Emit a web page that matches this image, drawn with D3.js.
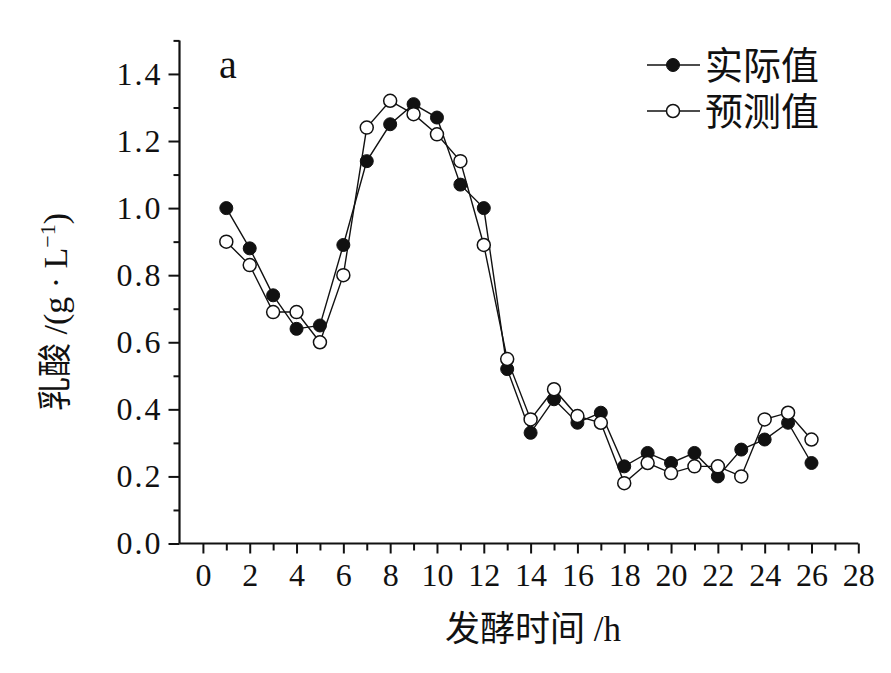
<!DOCTYPE html>
<html><head><meta charset="utf-8">
<script src="https://cdn.jsdelivr.net/npm/d3@7"></script>
<style>
html,body{margin:0;padding:0;background:#fff;}
svg{display:block;}
text{fill:#111;font-family:'Liberation Serif','Noto Sans CJK SC',serif;}
</style></head>
<body>
<script>
const hours = [1,2,3,4,5,6,7,8,9,10,11,12,13,14,15,16,17,18,19,20,21,22,23,24,25,26];
const actual = [1.00,0.88,0.74,0.64,0.65,0.89,1.14,1.25,1.31,1.27,1.07,1.00,0.52,0.33,0.43,0.36,0.39,0.23,0.27,0.24,0.27,0.20,0.28,0.31,0.36,0.24];
const predicted = [0.90,0.83,0.69,0.69,0.60,0.80,1.24,1.32,1.28,1.22,1.14,0.89,0.55,0.37,0.46,0.38,0.36,0.18,0.24,0.21,0.23,0.23,0.20,0.37,0.39,0.31];
const xTicks = [0,2,4,6,8,10,12,14,16,18,20,22,24,26,28];
const yTicks = [0,0.2,0.4,0.6,0.8,1.0,1.2,1.4];
const seriesNames = ["实际值","预测值"];
const xTitle = "发酵时间 /h";
const panelLabel = "a";

const W = 891, H = 673;
const svg = d3.select("body").append("svg").attr("width", W).attr("height", H);
const FONT = "'Liberation Serif','Noto Sans CJK SC',serif";

const x = d3.scaleLinear().domain([-1, 28]).range([179.5, 858.3]);
const y = d3.scaleLinear().domain([0, 1.5]).range([543.5, 40.4]);

const xMinor = d3.range(1, 28, 2);
const yMinor = d3.range(1, 16, 2).map(d => d / 10);

const gx = svg.append("g").attr("transform", `translate(0,${y(0)})`);
gx.call(d3.axisBottom(x).tickValues(xMinor).tickSize(7).tickFormat(""));
gx.call(g => g.select(".domain").remove());
const gx2 = svg.append("g").attr("transform", `translate(0,${y(0)})`)
  .call(d3.axisBottom(x).tickValues(xTicks).tickSize(10).tickPadding(10).tickFormat(d3.format("d")));
gx2.select(".domain").attr("d", `M${x(-1)},0H${x(28)}`);

const gy = svg.append("g").attr("transform", `translate(${x(-1)},0)`);
gy.call(d3.axisLeft(y).tickValues(yMinor).tickSize(6).tickFormat(""));
gy.call(g => g.select(".domain").remove());
const gy2 = svg.append("g").attr("transform", `translate(${x(-1)},0)`)
  .call(d3.axisLeft(y).tickValues(yTicks).tickSize(11).tickPadding(6).tickFormat(d3.format(".1f")));
gy2.select(".domain").attr("d", `M0,${y(1.5)}V${y(0)}`);

svg.selectAll("g").attr("font-family", null);
svg.selectAll(".domain").attr("stroke", "#111").attr("stroke-width", 2.2);
svg.selectAll(".tick line").attr("stroke", "#111").attr("stroke-width", 2);
svg.selectAll(".tick text").style("font-family", FONT).style("font-size", "32px").attr("fill", "#111");
gy2.selectAll(".tick text").style("letter-spacing", "2px");

// lines
const line = d3.line().x((d, i) => x(hours[i])).y(d => y(d));
svg.append("path").datum(actual).attr("d", line).attr("fill", "none").attr("stroke", "#111").attr("stroke-width", 1.4);
svg.append("path").datum(predicted).attr("d", line).attr("fill", "none").attr("stroke", "#111").attr("stroke-width", 1.4);

const R = 6.5;
svg.append("g").selectAll("circle").data(actual).join("circle")
  .attr("cx", (d, i) => x(hours[i])).attr("cy", d => y(d)).attr("r", R)
  .attr("fill", "#111").attr("stroke", "#111").attr("stroke-width", 1);
svg.append("g").selectAll("circle").data(predicted).join("circle")
  .attr("cx", (d, i) => x(hours[i])).attr("cy", d => y(d)).attr("r", R)
  .attr("fill", "#fff").attr("stroke", "#111").attr("stroke-width", 1.5);

// panel label
svg.append("text").attr("x", 219).attr("y", 78).style("font-size", "40px").text(panelLabel);

// legend
const leg = svg.append("g");
seriesNames.forEach((name, i) => {
  const cy = 65 + i * 46;
  leg.append("line").attr("x1", 647).attr("x2", 700).attr("y1", cy).attr("y2", cy).attr("stroke", "#111").attr("stroke-width", 1.4);
  leg.append("circle").attr("cx", 673).attr("cy", cy).attr("r", R)
    .attr("fill", i === 0 ? "#111" : "#fff").attr("stroke", "#111").attr("stroke-width", i === 0 ? 1 : 1.5);
  leg.append("text").attr("x", 705).attr("y", cy + 14).style("font-size", "38px").text(name);
});

// axis titles
svg.append("text").attr("x", 533).attr("y", 641).attr("text-anchor", "middle")
  .style("font-size", "35px").text(xTitle);

const yt = svg.append("text").attr("transform", "translate(67,312) rotate(-90)").attr("text-anchor", "middle")
  .style("font-size", "34px");
yt.append("tspan").text("乳酸 /(g · L");
yt.append("tspan").style("font-size", "22px").attr("dy", -12).text("−1");
yt.append("tspan").attr("dy", 12).text(")");
</script>
</body></html>
